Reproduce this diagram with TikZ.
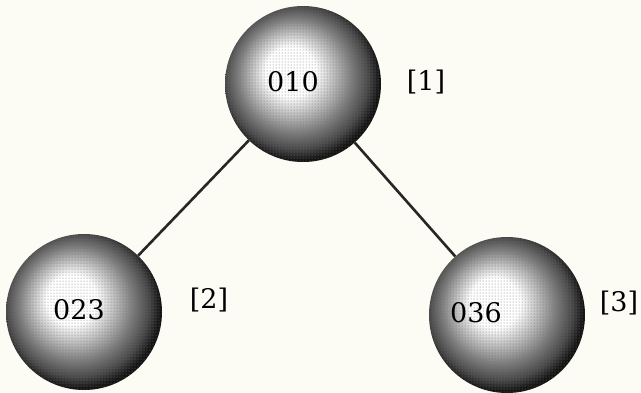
\documentclass[tikz,border=0pt]{standalone}
\usepackage{fontspec}
\setmainfont{DejaVu Serif}
\usetikzlibrary{positioning,patterns}
\definecolor{paper}{RGB}{252,252,244}
\pgfdeclareradialshading{halftone}{\pgfpoint{-5bp}{5bp}}{%
  color(0bp)=(white); color(8bp)=(white); color(13bp)=(black!25);
  color(18bp)=(black!50); color(23bp)=(black!72); color(26bp)=(black!92);
  color(40bp)=(black)}

\begin{document}
\begin{tikzpicture}[
  x=1pt, y=-1pt,
  font=\fontsize{27}{30}\selectfont,
  ball/.style={circle, minimum size=156pt, inner sep=0pt,
               shading=halftone,
               postaction={pattern=dots, pattern color=black!55}},
  tag/.style={inner sep=0pt},
  edge/.style={line width=2.6pt, black!85}
]
\fill[paper] (0,0) rectangle (641,392);
\useasboundingbox (0,0) rectangle (641,392);

\node[ball, label={[xshift=-10pt, yshift=2pt]center:010}] (n010) at (303,84) {};
\node[ball, label={[xshift=-5pt, yshift=2pt]center:023}] (n023) at (84,312) {};
\node[ball, label={[xshift=-31pt, yshift=2pt]center:036}] (n036) at (507,315) {};

\node[tag] (t1) at (426,82) {[1]};
\node[tag] (t2) at (209,300) {[2]};
\node[tag] (t3) at (619,303) {[3]};

\draw[edge] (n010) -- (n023);
\draw[edge] (n010) -- (n036);
\end{tikzpicture}
\end{document}
